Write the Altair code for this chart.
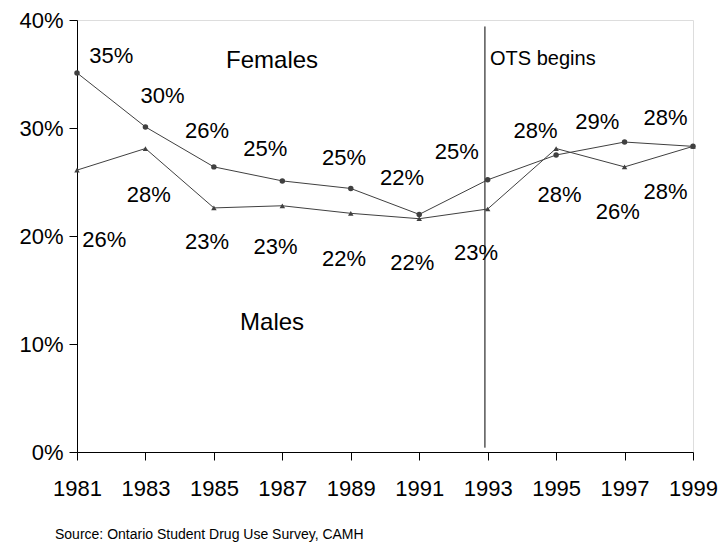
import altair as alt
import pandas as pd

years = [1981, 1983, 1985, 1987, 1989, 1991, 1993, 1995, 1997, 1999]
females = [35.1, 30.1, 26.4, 25.1, 24.4, 22.0, 25.2, 27.5, 28.7, 28.3]
males = [26.1, 28.1, 22.6, 22.8, 22.1, 21.6, 22.5, 28.1, 26.4, 28.3]

female_labels = ["35%", "30%", "26%", "25%", "25%", "22%", "25%", "28%", "29%", "28%"]
male_labels = ["26%", "28%", "23%", "23%", "22%", "22%", "23%", "28%", "26%", "28%"]

# annotation anchor positions in data units (year, percent)
female_lab_x = [1982.0, 1983.5, 1984.8, 1986.5, 1988.8, 1990.5, 1992.1, 1994.4, 1996.2, 1998.2]
female_lab_y = [36.7, 33.0, 29.7, 28.1, 27.2, 25.4, 27.8, 29.7, 30.6, 30.9]
male_lab_x = [1981.8, 1983.1, 1984.8, 1986.8, 1988.8, 1990.8, 1992.66, 1995.1, 1996.8, 1998.2]
male_lab_y = [19.6, 23.8, 19.4, 19.0, 17.9, 17.5, 18.4, 23.8, 22.2, 24.1]

x_ticks = years
y_ticks = [0, 10, 20, 30, 40]

FONT = "Liberation Sans"
LINE = "#404040"

df = pd.DataFrame({
    "year": years * 2,
    "value": females + males,
    "sex": ["Females"] * len(years) + ["Males"] * len(years),
})
lab = pd.DataFrame({
    "x": female_lab_x + male_lab_x,
    "y": female_lab_y + male_lab_y,
    "text": female_labels + male_labels,
})
names = pd.DataFrame({"x": [1986.7, 1986.7], "y": [36.2, 11.9], "text": ["Females", "Males"]})
ots = pd.DataFrame({"x": [1992.92], "y": [0.4], "y2": [39.4]})
ots_text = pd.DataFrame({"x": [1993.07], "y": [36.4], "text": ["OTS begins"]})

xs = alt.Scale(domain=[1981, 1999], nice=False, zero=False)
ys = alt.Scale(domain=[0, 40], nice=False)

base = alt.Chart(df)

lines = base.mark_line(color=LINE, strokeWidth=1).encode(
    x=alt.X("year:Q", scale=xs, axis=alt.Axis(
        values=x_ticks, format="d", title=None, grid=False,
        tickSize=8, labelPadding=18, labelFontSize=22, labelFont=FONT,
        labelColor="black", domainColor="black", tickColor="black",
        labelOverlap=False, labelFlush=False)),
    y=alt.Y("value:Q", scale=ys, axis=alt.Axis(
        values=y_ticks, labelExpr="datum.value + '%'", title=None, grid=False,
        tickSize=8, labelPadding=6, labelFontSize=22, labelFont=FONT,
        labelColor="black", domainColor="black", tickColor="black")),
    detail="sex:N",
)

pts = base.mark_point(filled=True, color=LINE, opacity=1).encode(
    x=alt.X("year:Q", scale=xs),
    y=alt.Y("value:Q", scale=ys),
    shape=alt.Shape("sex:N", scale=alt.Scale(domain=["Females", "Males"], range=["circle", "triangle-up"]), legend=None),
    size=alt.value(30),
)

rule = alt.Chart(ots).mark_rule(color="black", strokeWidth=1).encode(
    x=alt.X("x:Q", scale=xs), y=alt.Y("y:Q", scale=ys), y2="y2:Q")

labels = alt.Chart(lab).mark_text(fontSize=22, font=FONT, color="black").encode(
    x=alt.X("x:Q", scale=xs), y=alt.Y("y:Q", scale=ys), text="text:N")

name_text = alt.Chart(names).mark_text(fontSize=24, font=FONT, color="black").encode(
    x=alt.X("x:Q", scale=xs), y=alt.Y("y:Q", scale=ys), text="text:N")

ots_lab = alt.Chart(ots_text).mark_text(fontSize=20, font=FONT, color="black", align="left").encode(
    x=alt.X("x:Q", scale=xs), y=alt.Y("y:Q", scale=ys), text="text:N")

source = alt.Chart(pd.DataFrame({"t": ["Source:  Ontario Student Drug Use Survey, CAMH"]})).mark_text(
    fontSize=14, font=FONT, color="black", align="left", baseline="alphabetic"
).encode(x=alt.value(-22), y=alt.value(519), text="t:N")

chart = alt.layer(rule, lines, pts, labels, name_text, ots_lab, source).properties(
    width=616, height=432,
    autosize=alt.AutoSizeParams(type="none"),
    padding={"left": 69, "top": 12, "right": 27, "bottom": 92},
).configure_view(stroke="#808080", strokeWidth=1).configure(background="white")

chart.save("out.html", embed_options={"renderer": "svg", "actions": False})
